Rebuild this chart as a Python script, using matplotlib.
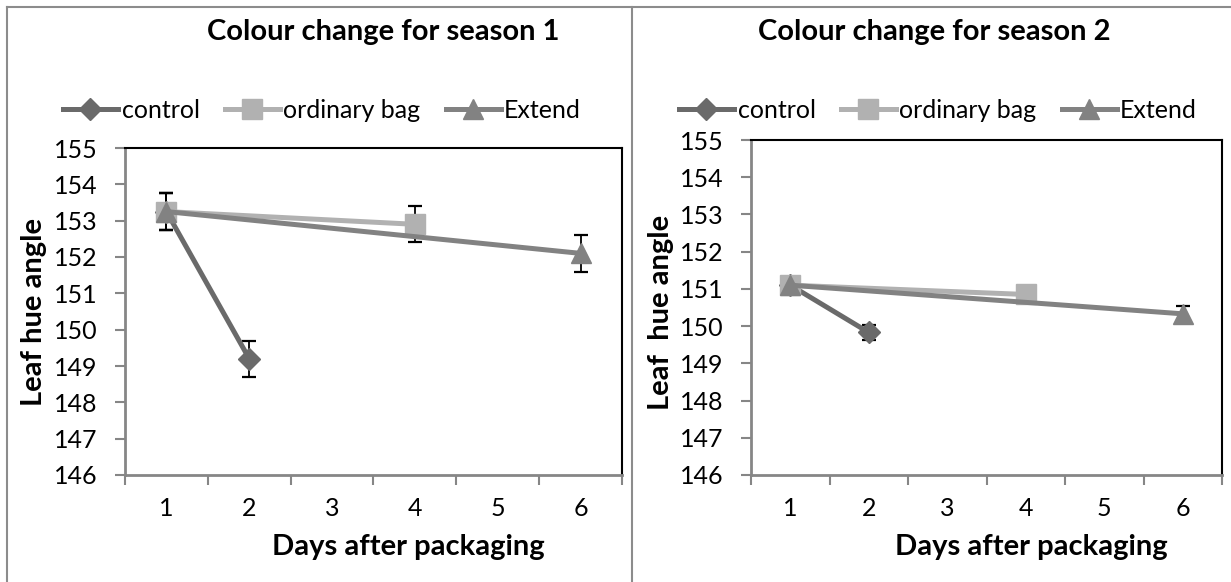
import matplotlib
matplotlib.use("Agg")
import matplotlib.pyplot as plt
from matplotlib.lines import Line2D

plt.rcParams['font.family'] = ['Lato', 'DejaVu Sans']

# DATA
days = [1, 2, 3, 4, 5, 6]
series_names = ["control", "ordinary bag", "Extend"]

# season 1
s1_control_x = [1, 2]
s1_control_y = [153.25, 149.2]
s1_control_err = [0.5, 0.5]
s1_bag_x = [1, 4]
s1_bag_y = [153.25, 152.9]
s1_bag_err = [0.5, 0.5]
s1_ext_x = [1, 6]
s1_ext_y = [153.25, 152.1]
s1_ext_err = [0.5, 0.5]

# season 2
s2_control_x = [1, 2]
s2_control_y = [151.1, 149.83]
s2_control_err = [0.1, 0.2]
s2_bag_x = [1, 4]
s2_bag_y = [151.1, 150.85]
s2_bag_err = [0.1, 0.1]
s2_ext_x = [1, 6]
s2_ext_y = [151.1, 150.33]
s2_ext_err = [0.1, 0.2]

y_ticks = [146, 147, 148, 149, 150, 151, 152, 153, 154, 155]

W, H = 1231, 582
fig = plt.figure(figsize=(W / 100, H / 100), dpi=100)

c_ctrl = '#6a6a6a'
c_bag = '#b1b1b1'
c_ext = '#828282'
styles = [(c_ctrl, 'D', 11), (c_bag, 's', 14), (c_ext, '^', 14)]
axis_grey = '#868686'


def fx(px):
    return px / W


def fy(py):
    return 1 - py / H


def draw_panel(ax, data, title, ylabel, title_x, leg_x, ylab_x, xlab_x):
    for i, ((xs, ys, es), (col, mk, ms)) in enumerate(zip(data, styles)):
        ax.plot(xs, ys, color=col, lw=3.6, marker=mk, ms=ms, mec=col, mfc=col,
                zorder=3 + i, solid_capstyle='round')
        # error bars sit under the markers
        ax.errorbar(xs, ys, yerr=es, fmt='none', ecolor='black', elinewidth=1.3,
                    capsize=5, capthick=1.6, zorder=2)
    ax.set_xlim(0.5, 6.5)
    ax.set_ylim(146, 155)
    ax.set_yticks(y_ticks)
    ax.set_yticklabels([str(t) for t in y_ticks], fontsize=18)
    ax.set_xticks([i + 0.5 for i in range(0, 7)])
    ax.set_xticklabels([])
    ax.set_xticks(days, minor=True)
    ax.set_xticklabels([str(d) for d in days], minor=True, fontsize=18)
    ax.tick_params(axis='x', which='major', length=7, width=1.5, color=axis_grey, direction='out')
    ax.tick_params(axis='x', which='minor', length=0, pad=16)
    ax.tick_params(axis='y', length=7, width=1.5, color=axis_grey, direction='out', pad=13)
    for s in ['left', 'bottom']:
        ax.spines[s].set_color(axis_grey)
        ax.spines[s].set_linewidth(2)
    for s in ['top', 'right']:
        ax.spines[s].set_color('black')
        ax.spines[s].set_linewidth(1.5)

    fig.text(fx(title_x), fy(32), title, ha='center', va='center',
             fontsize=21, fontweight='bold')
    fig.text(fx(ylab_x), fy(312), ylabel, ha='center', va='center', rotation=90,
             fontsize=21, fontweight='bold')
    fig.text(fx(xlab_x), fy(547), "Days after packaging", ha='center', va='center',
             fontsize=21, fontweight='bold')

    handles = [Line2D([], [], color=col, lw=3.6, marker=mk, ms=ms, mec=col, mfc=col)
               for col, mk, ms in styles]
    fig.legend(handles, series_names, loc='center', bbox_to_anchor=(fx(leg_x), fy(110)),
               ncol=3, frameon=False, fontsize=18, handlelength=2.2, handletextpad=0.15,
               columnspacing=1.0, borderaxespad=0)


ax1 = fig.add_axes([fx(125), fy(475), fx(622 - 125), (475 - 148) / H])
draw_panel(ax1,
           [(s1_control_x, s1_control_y, s1_control_err),
            (s1_bag_x, s1_bag_y, s1_bag_err),
            (s1_ext_x, s1_ext_y, s1_ext_err)],
           "Colour change for season 1", "Leaf hue angle", 383, 322, 34, 408)

ax2 = fig.add_axes([fx(751), fy(475), fx(1222 - 751), (475 - 140) / H])
draw_panel(ax2,
           [(s2_control_x, s2_control_y, s2_control_err),
            (s2_bag_x, s2_bag_y, s2_bag_err),
            (s2_ext_x, s2_ext_y, s2_ext_err)],
           "Colour change for season 2", "Leaf  hue angle", 934, 938, 661, 1031)

# outer chart borders
border = dict(color='#8c8c8c', lw=1.5, transform=fig.transFigure)
fig.add_artist(Line2D([fx(7), fx(7)], [fy(7), 0], **border))
fig.add_artist(Line2D([fx(7), 1], [fy(7), fy(7)], **border))
fig.add_artist(Line2D([fx(632), fx(632)], [fy(7), 0], **border))

fig.savefig("out.png", dpi=100)
